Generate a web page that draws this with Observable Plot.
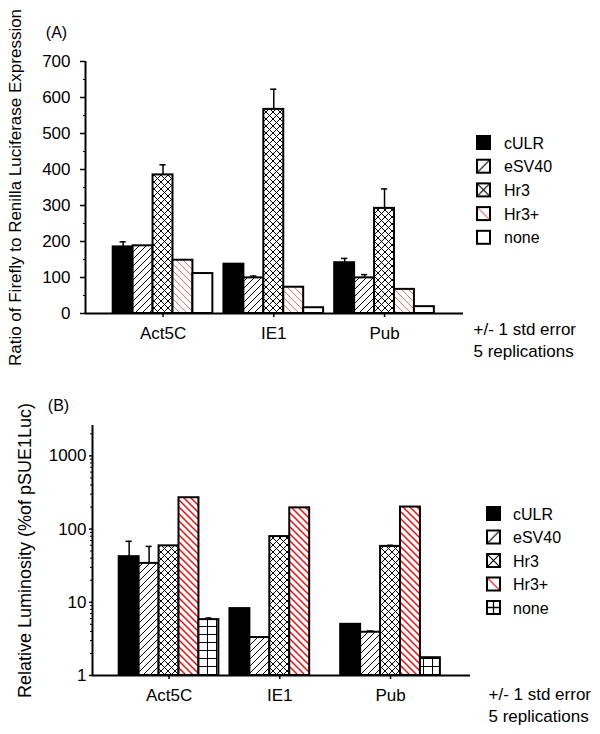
<!DOCTYPE html>
<html><head><meta charset="utf-8">
<script src="https://cdn.jsdelivr.net/npm/d3@7"></script>
<script src="https://cdn.jsdelivr.net/npm/@observablehq/plot@0.6"></script>
<style>
body{margin:0;background:#fff;}
#wrap{width:600px;}
#wrap svg{display:block;}
</style></head><body><div id="wrap"></div>
<script>
// ---------- data ----------
const groups = ["Act5C", "IE1", "Pub"];
const series = ["cULR", "eSV40", "Hr3", "Hr3+", "none"];

// Panel A: Ratio of Firefly to Renilla luciferase expression (per group: Act5C, IE1, Pub)
const aCULR  = [185, 137, 141];
const aESV40 = [188, 99, 99];
const aHR3   = [385, 567, 292];
const aHR3p  = [148, 73, 67];
const aNone  = [111, 16, 19];
// upper error (+1 std error)
const aCULRerr  = [14, 0, 12];
const aESV40err = [0, 5, 9];
const aHR3err   = [28, 56, 54];
const aHR3perr  = [0, 0, 0];
const aNoneerr  = [0, 0, 0];

// Panel B: Relative luminosity (% of pSUE1Luc), log scale
const bCULR  = [42, 8.2, 5.0];
const bESV40 = [34, 3.3, 3.9];
const bHR3   = [59, 79, 58];
const bHR3p  = [268, 195, 200];
const bNone  = [5.8, null, 1.75];
const bCULRerr  = [26, 0, 0];
const bESV40err = [24, 0, 0.15];
const bHR3err   = [0, 0, 2];
const bHR3perr  = [0, 0, 0];
const bNoneerr  = [0.3, 0, 0];

const aTicks = [0, 100, 200, 300, 400, 500, 600, 700];
const bTicks = [1, 10, 100, 1000];
const noteLines = "+/- 1 std error\n5 replications";

// ---------- helpers ----------
function rows(vals, errs) {
  return series.flatMap((s, j) => groups.map((g, i) => ({
    group: g, series: s, i, j, value: vals[j][i], err: errs[j][i]
  }))).filter(d => d.value != null);
}
const dataA = rows([aCULR, aESV40, aHR3, aHR3p, aNone], [aCULRerr, aESV40err, aHR3err, aHR3perr, aNoneerr]);
const dataB = rows([bCULR, bESV40, bHR3, bHR3p, bNone], [bCULRerr, bESV40err, bHR3err, bHR3perr, bNoneerr]);

const FONT = "Liberation Sans, Arial, sans-serif";
const bw = 0.18;   // bar width in group units
const cap = 0.028; // error cap half width
const cx = d => d.i + (d.j - 2) * bw;

function addPatterns(svg, p, red, redW, redSpace) {
  const defs = d3.select(svg).insert("defs", ":first-child");
  const mk = (id, w, h, path, color, sw) => {
    const pat = defs.append("pattern").attr("id", p + id)
      .attr("patternUnits", "userSpaceOnUse").attr("width", w).attr("height", h);
    pat.append("rect").attr("width", w).attr("height", h).attr("fill", "white");
    pat.append("path").attr("d", path).attr("stroke", color).attr("stroke-width", sw).attr("fill", "none");
  };
  mk("esv", 7, 7, "M-1,1L1,-1M0,7L7,0M6,8L8,6", "black", 1);
  mk("hr3", 7, 7, "M-1,1L1,-1M0,7L7,0M6,8L8,6M-1,6L1,8M0,0L7,7M6,-1L8,1", "black", 1);
  const s = redSpace;
  mk("hr3p", s, s, `M-1,${s - 1}L1,${s + 1}M0,0L${s},${s}M${s - 1},-1L${s + 1},1`, red, redW);
  mk("grid", 9, 8, "M0,0.5H9M0.5,0V8", "black", 1);
  const mkL = (id, path, color, sw) => {
    const pat = defs.append("pattern").attr("id", p + "L" + id)
      .attr("patternUnits", "objectBoundingBox").attr("patternContentUnits", "objectBoundingBox")
      .attr("width", 1).attr("height", 1);
    pat.append("rect").attr("width", 1).attr("height", 1).attr("fill", "white");
    pat.append("path").attr("d", path).attr("stroke", color).attr("stroke-width", sw).attr("fill", "none");
  };
  mkL("esv", "M0,1L1,0", "black", 0.09);
  mkL("hr3", "M0,1L1,0M0,0L1,1", "black", 0.09);
  mkL("hr3p", "M0,0L1,1", red, 0.09);
  mkL("grid", "M0,0.5H1M0.5,0V1", "black", 0.1);
}

function addLegend(svg, fills, x0, y0, step, tx) {
  const g = d3.select(svg).append("g")
    .attr("font-family", FONT).attr("font-size", 16).attr("text-anchor", "start");
  series.forEach((s, j) => {
    const y = y0 + j * step;
    g.append("rect").attr("x", x0).attr("y", y - 7).attr("width", 13).attr("height", 13)
      .attr("fill", fills[j]).attr("stroke", "black").attr("stroke-width", 2);
    g.append("text").attr("x", tx).attr("y", y).attr("dy", "0.35em").text(s);
  });
}

function panel(cfg) {
  const {data, fills, yOpts, base, xDomain, yTicks, minor, minorSize, tickSize, tickPadding,
         ylabel, ylabelDx, ylabelSize, tag, tagDx, tagDy, noteDx, noteDy, ...dims} = cfg;
  const errs = data.filter(d => d.err > 0);
  return Plot.plot({
    ...dims,
    style: {fontFamily: FONT, fontSize: "17px", color: "black", background: "white"},
    x: {domain: xDomain},
    y: {...yOpts},
    color: {type: "identity"},
    marks: [
      Plot.rect(data, {
        x1: d => d.i + (d.j - 2.5) * bw, x2: d => d.i + (d.j - 1.5) * bw,
        y1: base, y2: "value", fill: d => fills[d.j], stroke: "black", strokeWidth: 2
      }),
      Plot.ruleX(errs, {x: cx, y1: "value", y2: d => d.value + d.err, strokeWidth: 1.5}),
      Plot.ruleY(errs, {y: d => d.value + d.err, x1: d => cx(d) - cap, x2: d => cx(d) + cap, strokeWidth: 1.5}),
      Plot.ruleY([base], {strokeWidth: 2}),
      Plot.ruleX([xDomain[0]], {strokeWidth: 2}),
      Plot.axisX({ticks: [0, 1, 2], tickFormat: i => groups[i], tickSize: 4, tickPadding: 9, label: null, strokeWidth: 1.5}),
      Plot.axisY({ticks: yTicks, tickFormat: d => String(d), tickSize, tickPadding, label: null, strokeWidth: 1.5}),
      Plot.axisY({ticks: minor, tickFormat: () => "", tickSize: minorSize, label: null}),
      Plot.text([ylabel], {frameAnchor: "left", textAnchor: "middle", rotate: -90, dx: ylabelDx, fontSize: ylabelSize}),
      Plot.text([tag], {frameAnchor: "top-left", textAnchor: "middle", dx: tagDx, dy: tagDy, fontSize: 16}),
      Plot.text([noteLines], {frameAnchor: "bottom-right", textAnchor: "start", lineAnchor: "top", lineHeight: 1.3, dx: noteDx, dy: noteDy})
    ]
  });
}

// ---------- panel A ----------
const fillsA = ["black", "url(#Aesv)", "url(#Ahr3)", "url(#Ahr3p)", "white"];
const svgA = panel({
  data: dataA, fills: fillsA, base: 0,
  width: 600, height: 370, marginLeft: 85, marginRight: 137, marginTop: 61, marginBottom: 57,
  xDomain: [-0.700, 2.713],
  yOpts: {domain: [0, 700]},
  yTicks: aTicks, minor: d3.range(50, 700, 100), minorSize: 2, tickSize: 5, tickPadding: 10,
  ylabel: "Ratio of Firefly to Renilla Luciferase Expression", ylabelDx: -70, ylabelSize: 17,
  tag: "(A)", tagDx: -29, tagDy: -35, noteDx: 10, noteDy: 6
});
addPatterns(svgA, "A", "#f07070", 1, 7);
addLegend(svgA, ["black", "url(#ALesv)", "url(#ALhr3)", "url(#ALhr3p)", "white"], 477, 143, 23.7, 504);
document.getElementById("wrap").appendChild(svgA);

// ---------- panel B ----------
const fillsB = ["black", "url(#Besv)", "url(#Bhr3)", "url(#Bhr3p)", "url(#Bgrid)"];
const minorB = [];
for (const d of [1, 10, 100, 1000]) for (let k = 2; k <= 9; k++) if (d * k <= 2600) minorB.push(d * k);
const svgB = panel({
  data: dataB, fills: fillsB, base: 1,
  width: 600, height: 364, marginLeft: 92, marginRight: 130, marginTop: 55, marginBottom: 59,
  xDomain: [-0.691, 2.722],
  yOpts: {type: "log", domain: [1, 2600]},
  yTicks: bTicks, minor: minorB, minorSize: 2, tickSize: 3, tickPadding: 3,
  ylabel: "Relative Luminosity (%of pSUE1Luc)", ylabelDx: -67, ylabelSize: 18,
  tag: "(B)", tagDx: -34, tagDy: -26, noteDx: 18, noteDy: 9
});
addPatterns(svgB, "B", "#ff0000", 1.4, 7);
addLegend(svgB, ["black", "url(#BLesv)", "url(#BLhr3)", "url(#BLhr3p)", "url(#BLgrid)"], 487, 144, 23.5, 513);
document.getElementById("wrap").appendChild(svgB);
</script>
</body></html>
